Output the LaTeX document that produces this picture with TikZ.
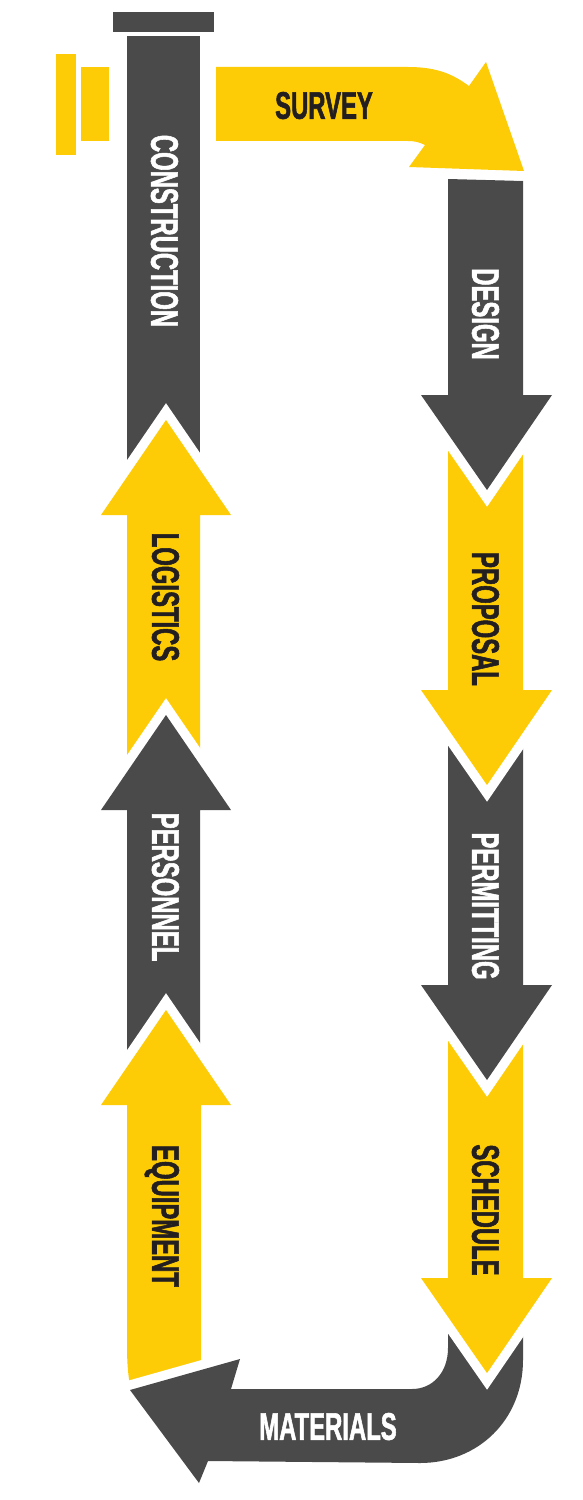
\documentclass[tikz,border=0pt]{standalone}
\usepackage{fontspec}
\newfontfamily\signfont[FakeStretch=0.62, FakeBold=1.4]{Liberation Sans}
\definecolor{hazardyellow}{HTML}{FECC07}
\definecolor{asphalt}{HTML}{4A4A4A}
\definecolor{inkdark}{HTML}{231F20}
\tikzset{
  stageshape/.style  = {line join=miter, preaction={draw=white, line width=0.38cm}},
  yellowstage/.style = {stageshape, fill=hazardyellow},
  greystage/.style   = {stageshape, fill=asphalt},
  stagelabel/.style  = {font=\signfont\bfseries\fontsize{21.9}{22}\selectfont,
                        inner sep=0pt, text height=15.7pt, text depth=0pt},
  sidelabel/.style   = {stagelabel, rotate=-90},
}

\begin{document}
\begin{tikzpicture}[x=0.02cm, y=-0.02cm]
\useasboundingbox (0,0) rectangle (582,1500);

% =============== LEFT COLUMN (bottom of the stack first) ===============
\fill[asphalt] (127,36) rectangle (200,515);
\fill[asphalt] (113,12) rectangle (214,32);
\fill[hazardyellow] (56,54) rectangle (76,155);
\fill[hazardyellow] (81,67) rectangle (109,141);

% up arrows: logistics, personnel
\foreach \ytip/\ybot/\stage in {420/800/yellowstage, 715/1100/greystage}
  \path[\stage] (127,\ybot) -- (127,\ytip+95) -- (101,\ytip+95) -- (166,\ytip)
    -- (231,\ytip+95) -- (200,\ytip+95) -- (200,\ybot) -- cycle;

% equipment, bent a little at its foot
\path[yellowstage] (131,1390) .. controls (127,1372) and (127,1355) .. (127,1340)
  -- (127,1105) -- (101,1105) -- (166,1010) -- (231,1105) -- (201,1105)
  -- (201,1368) -- cycle;

% =============== BOTTOM TURN ===============
\path[greystage] (130,1390) -- (240,1359) -- (231,1389) -- (412,1389)
  .. controls (433,1389) and (448,1372) .. (448,1348) -- (448,1290)
  -- (523,1290) -- (523,1360) .. controls (523,1420) and (478,1463) .. (420,1463)
  -- (208,1461) -- (199,1483) -- cycle;

% =============== RIGHT COLUMN (bottom of the stack first) ===============
% down arrows: schedule, permitting, proposal, design
\foreach \ytl/\ytr/\yhead/\stage in {985/985/1278/yellowstage, 690/690/985/greystage,
                                     400/400/690/yellowstage, 179/181/395/greystage}
  \path[\stage] (448,\ytl) -- (448,\yhead) -- (421,\yhead) -- (487,\yhead+95)
    -- (552,\yhead) -- (523,\yhead) -- (523,\ytr) -- cycle;

% =============== TOP TURN ===============
\path[yellowstage] (216,67) -- (408,67) .. controls (440,67) and (455,76) .. (469,86)
  -- (486,62) -- (524,171) -- (409,167) -- (425,145)
  .. controls (419,142) and (414,141) .. (408,141) -- (216,141) -- cycle;

% =============== LABELS ===============
\node (survey)       [stagelabel, text=inkdark] at (324,105)  {SURVEY};
\node (design)       [sidelabel, text=white]    at (486,314)  {DESIGN};
\node (proposal)     [sidelabel, text=inkdark]  at (486,619)  {PROPOSAL};
\node (permitting)   [sidelabel, text=white]    at (486,906)  {PERMITTING};
\node (schedule)     [sidelabel, text=inkdark]  at (486,1210) {SCHEDULE};
\node (materials)    [stagelabel, text=white]   at (328,1426) {MATERIALS};
\node (equipment)    [sidelabel, text=inkdark]  at (166,1216) {EQUIPMENT};
\node (personnel)    [sidelabel, text=white]    at (166,887)  {PERSONNEL};
\node (logistics)    [sidelabel, text=inkdark]  at (166,597)  {LOGISTICS};
\node (construction) [sidelabel, text=white]    at (165,231)  {CONSTRUCTION};

\end{tikzpicture}
\end{document}
